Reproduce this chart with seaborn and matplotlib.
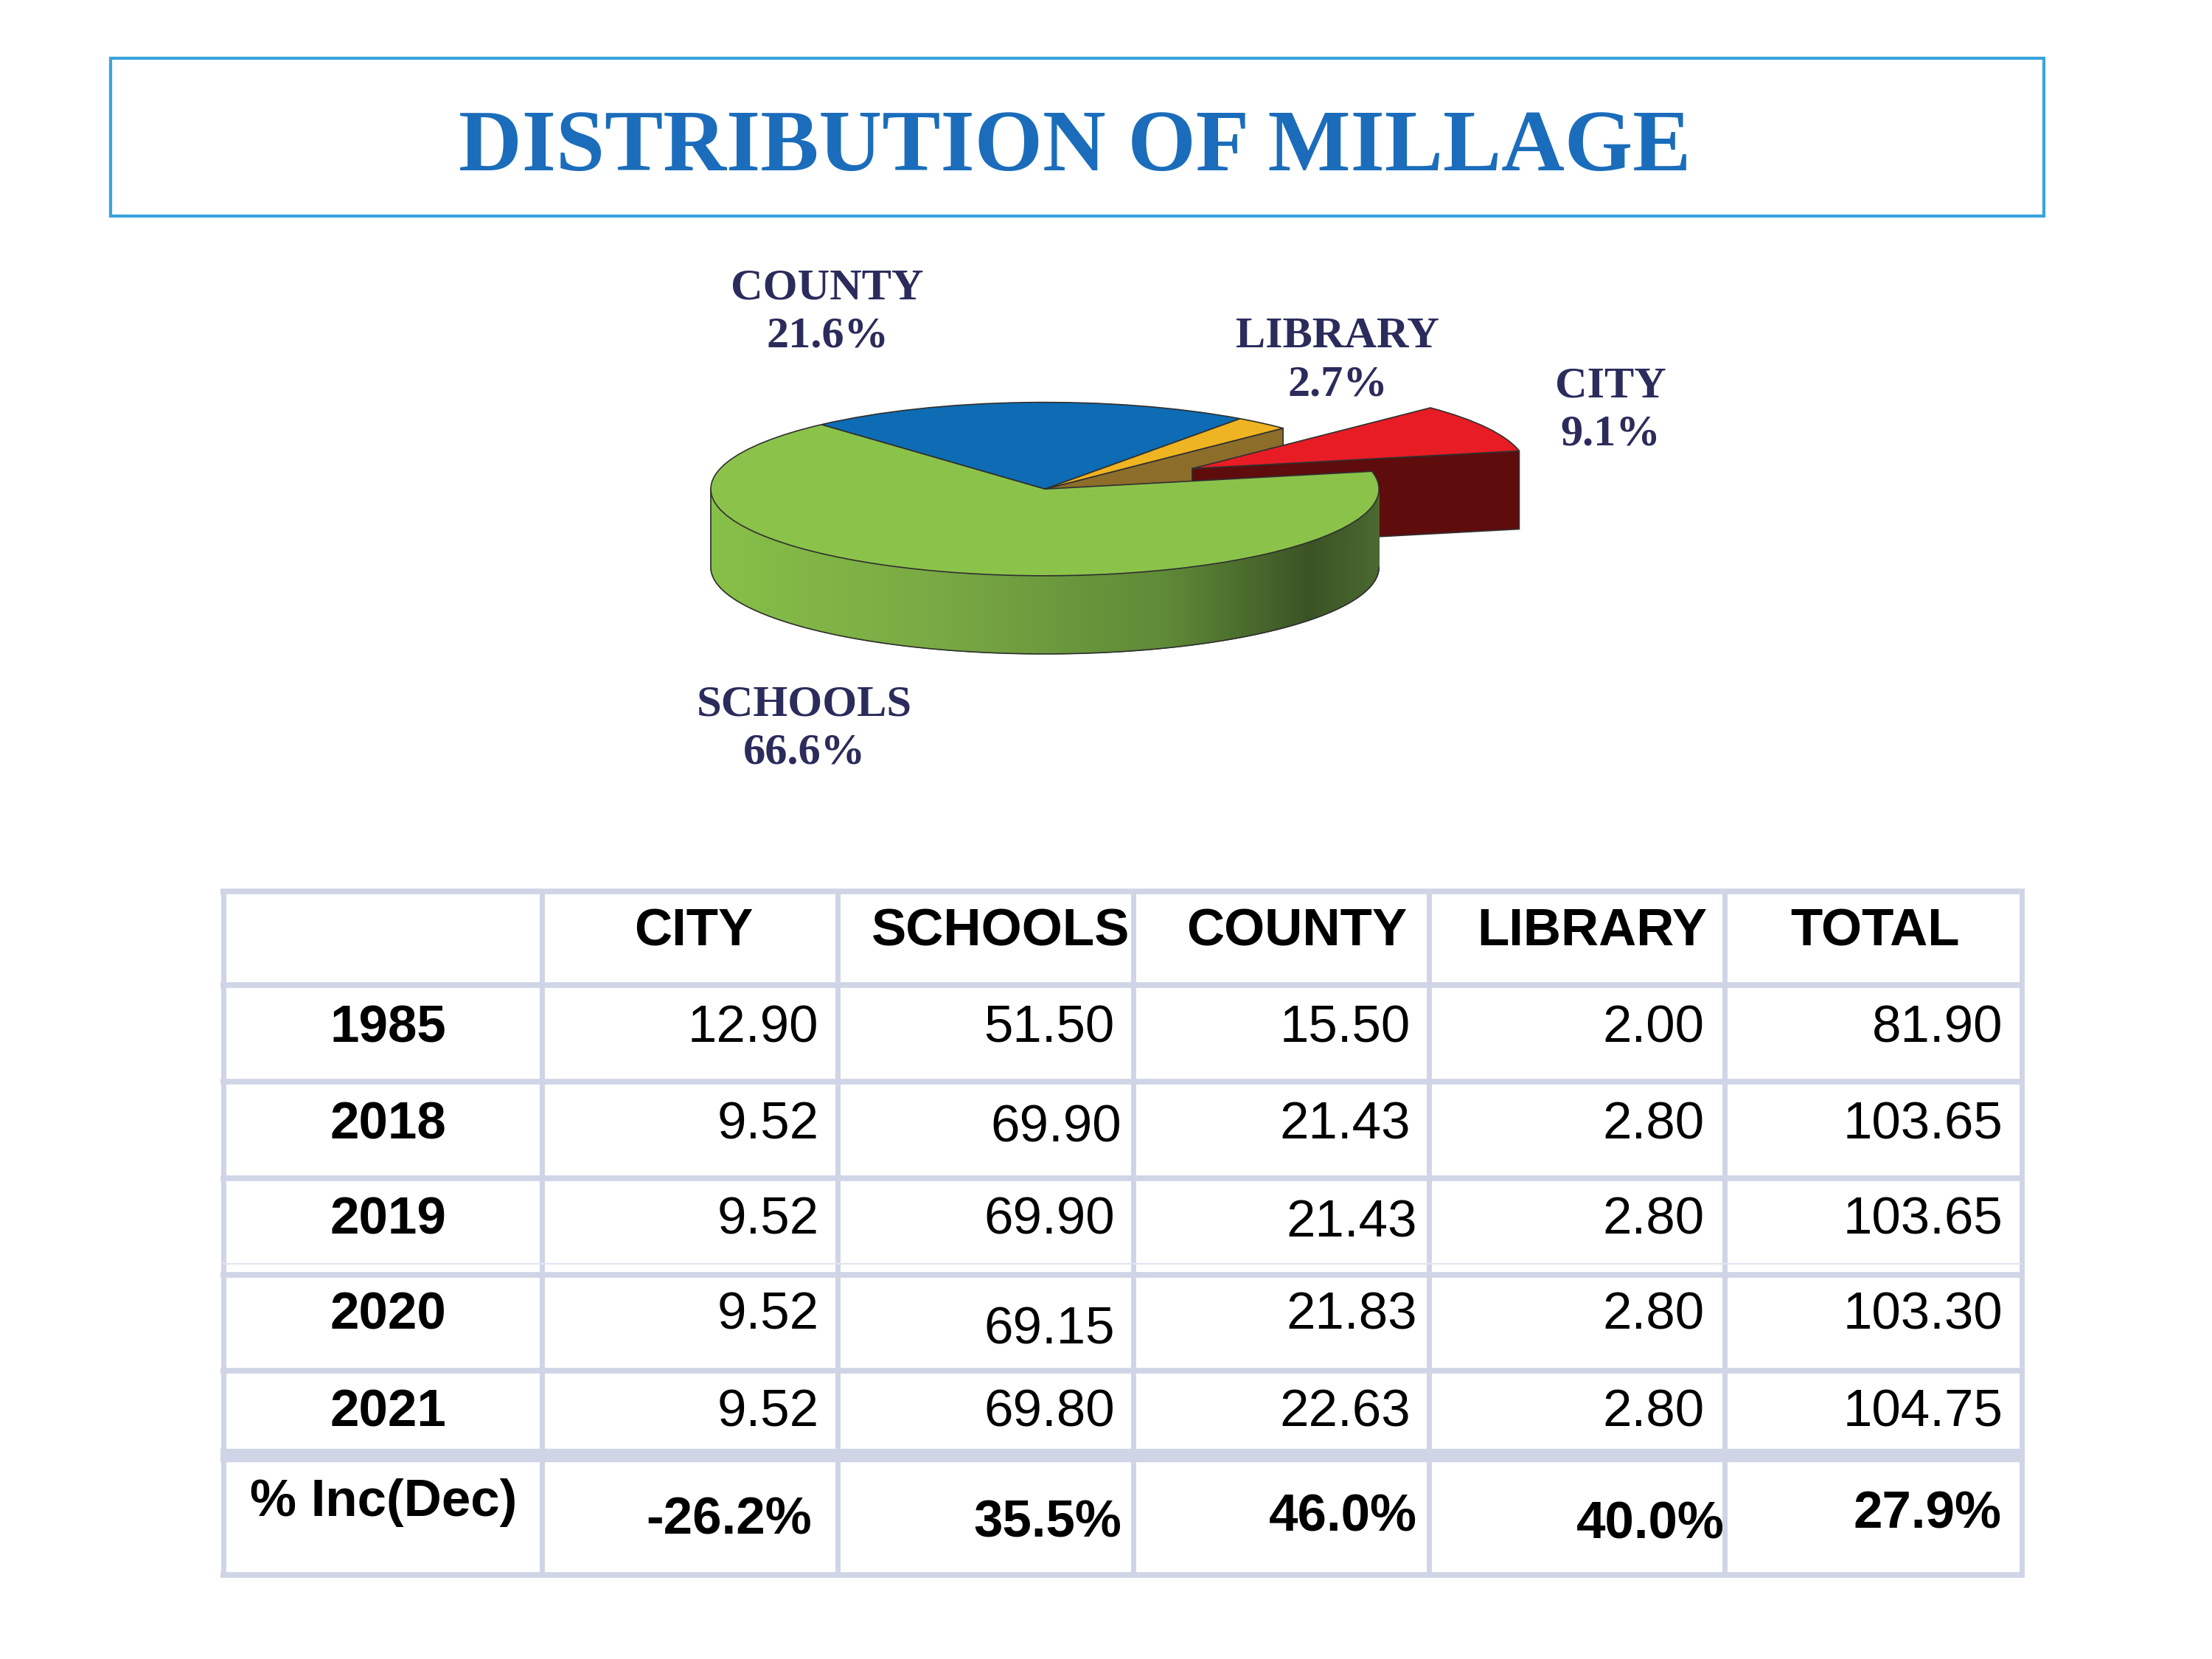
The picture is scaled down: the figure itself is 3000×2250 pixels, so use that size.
import numpy as np
import matplotlib
matplotlib.use("Agg")
import matplotlib.pyplot as plt
import seaborn as sns
from matplotlib.patches import Rectangle
from matplotlib.collections import PolyCollection
from matplotlib.colors import LinearSegmentedColormap

# ---------------- data ----------------
pie_labels = ["COUNTY", "LIBRARY", "CITY", "SCHOOLS"]
pie_pct = [21.6, 2.7, 9.1, 66.6]

columns = ["CITY", "SCHOOLS", "COUNTY", "LIBRARY", "TOTAL"]
years = ["1985", "2018", "2019", "2020", "2021"]
city = [12.90, 9.52, 9.52, 9.52, 9.52]
schools = [51.50, 69.90, 69.90, 69.15, 69.80]
county = [15.50, 21.43, 21.43, 21.83, 22.63]
library = [2.00, 2.80, 2.80, 2.80, 2.80]
total = [81.90, 103.65, 103.65, 103.30, 104.75]
pct_change = [-26.2, 35.5, 46.0, 40.0, 27.9]
change_label = "% Inc(Dec)"
title = "DISTRIBUTION OF MILLAGE"

# ---------------- style ----------------
sns.set_theme(style="white")
plt.rcParams["font.family"] = ["Liberation Sans", "DejaVu Sans"]

top_colors = ["#0d6cb4", "#efb421", "#e81c24", "#8bc34a"]
side_colors = ["#0a4f85", "#8c6d2a", "#5e0c0c", "#6a9a3e"]
explode = [0, 0, 0.5, 0]
label_color = "#2b2c5c"
grid_color = "#cfd5e6"
PX = 0.4627  # points per layout pixel

fig = plt.figure(figsize=(10, 7.5), dpi=300)
fig.patch.set_facecolor("white")

# layout axes (pixel-like units of a 1556 x 1167 canvas)
ax = fig.add_axes([0, 0, 1, 1])
ax.set_xlim(0, 1556)
ax.set_ylim(1167, 0)
ax.axis("off")

# ---------------- title box ----------------
ax.add_patch(Rectangle((78, 41), 1360, 111, fill=False, edgecolor="#39a3dc", lw=1.0))
ax.text(756, 120, title, ha="center", va="baseline", fontsize=28.5,
        fontweight="bold", color="#1b6dbb", family=["Liberation Serif", "DejaVu Serif"])

# ---------------- 3D pie ----------------
pax = fig.add_axes([0, 0, 1, 1])
pax.patch.set_alpha(0)
cx, cy, rx, ry = 735, 344, 235, 61
depth = 55 / ry

wedges, _ = pax.pie(pie_pct, startangle=132, counterclock=False, explode=explode,
                    colors=top_colors,
                    wedgeprops=dict(edgecolor="#303030", linewidth=0.4))
pax.set_xlim((0 - cx) / rx, (1556 - cx) / rx)
pax.set_ylim((cy - 1167) / ry, (cy - 0) / ry)
pax.set_aspect("auto")
pax.axis("off")

fr = np.array(pie_pct) / np.sum(pie_pct)
cum = np.concatenate([[0], np.cumsum(fr)])
t_start = 132 - cum[:-1] * 360   # ccw end
t_end = 132 - cum[1:] * 360      # cw end

green_cmap = LinearSegmentedColormap.from_list(
    "side", [(0.0, "#87c048"), (0.35, "#78a843"), (0.68, "#5f8a37"),
             (0.90, "#3b5325"), (1.0, "#4a6830")])

n = len(pie_pct)
for i in range(n):
    mid = np.deg2rad((t_start[i] + t_end[i]) / 2)
    ox, oy = explode[i] * np.cos(mid), explode[i] * np.sin(mid)
    zb = 2 * i + 1
    wedges[i].set_zorder(zb + 1)
    # outer arc side wall
    a = np.deg2rad(np.linspace(t_end[i], t_start[i], 600))
    polys, cols = [], []
    for a1, a2 in zip(a[:-1], a[1:]):
        if np.sin((a1 + a2) / 2) < 0:
            x1, y1 = ox + np.cos(a1), oy + np.sin(a1)
            x2, y2 = ox + np.cos(a2), oy + np.sin(a2)
            polys.append([(x1, y1), (x2, y2), (x2, y2 - depth), (x1, y1 - depth)])
            if i == n - 1:
                cols.append(green_cmap((np.cos((a1 + a2) / 2) + 1) / 2))
            else:
                cols.append(side_colors[i])
    if polys:
        pc = PolyCollection(polys, facecolors=cols, edgecolors=cols, linewidths=0.3,
                            zorder=zb)
        pax.add_collection(pc)
        vis = a[np.sin(a) < 0]
        pax.plot(ox + np.cos(vis), oy + np.sin(vis) - depth, color="#303030",
                 lw=0.4, zorder=zb + 0.5)
        pax.plot([ox + np.cos(vis[0])] * 2, [oy + np.sin(vis[0]), oy + np.sin(vis[0]) - depth],
                 color="#303030", lw=0.4, zorder=zb + 0.5)
    # radial faces (only next to an exploded slice)
    for t, nb, sign in [(t_end[i], (i + 1) % n, -1), (t_start[i], (i - 1) % n, 1)]:
        if explode[i] == 0 and explode[nb] == 0:
            continue
        normal = np.deg2rad(t + sign * 90)
        if np.sin(normal) >= 0:
            continue
        tr = np.deg2rad(t)
        px_, py_ = ox + np.cos(tr), oy + np.sin(tr)
        face = [(ox, oy), (px_, py_), (px_, py_ - depth), (ox, oy - depth)]
        pax.fill(*zip(*face), facecolor=side_colors[i], edgecolor="#303030",
                 lw=0.4, zorder=zb)

# pie labels
label_pos = {"COUNTY": (582, 220), "LIBRARY": (941, 254),
             "CITY": (1133, 289), "SCHOOLS": (566, 513)}
for name, pct in zip(pie_labels, pie_pct):
    x, y = label_pos[name]
    ax.text(x, y, f"{name}\n{pct:.1f}%", ha="center", va="center", fontsize=14.5,
            fontweight="bold", color=label_color, linespacing=1.28,
            family=["Liberation Serif", "DejaVu Serif"])

# ---------------- table ----------------
col_edges = [157, 381, 589, 797, 1005, 1213, 1422]
row_edges = [627, 693, 761, 829, 897, 964, 1024, 1108]
for xe in col_edges:
    ax.plot([xe, xe], [row_edges[0], row_edges[-1]], color=grid_color,
            lw=3.6 * PX, solid_capstyle="butt", zorder=1)
for k, ye in enumerate(row_edges):
    w = 9.5 if ye == 1024 else 4.0
    ax.plot([col_edges[0] - 2, col_edges[-1] + 2], [ye, ye], color=grid_color,
            lw=w * PX, solid_capstyle="butt", zorder=1)
ax.plot([col_edges[0], col_edges[-1]], [889, 889], color="#e2e6f0", lw=1.2 * PX, zorder=1)

fs = 17
cap = 0.716 * fs / PX / 2  # half cap height in layout px
header_x = [488, 704, 912, 1120, 1319]
for hx, h in zip(header_x, columns):
    ax.text(hx, 652 + cap, h, ha="center", va="baseline", fontsize=fs,
            fontweight="bold", color="black")

row_y = [720, 788, 855, 922, 990]
right_x = [576, 784, 992, 1199, 1409]
nudge = {(1, 1): (5, 2), (2, 2): (5, 2), (3, 1): (0, 10), (3, 2): (5, 0)}
series = [city, schools, county, library, total]
for r, yr in enumerate(years):
    ax.text(273, row_y[r] + cap, yr, ha="center", va="baseline", fontsize=fs,
            fontweight="bold", color="black")
    for c, vals in enumerate(series):
        dx, dy = nudge.get((r, c), (0, 0))
        ax.text(right_x[c] + dx, row_y[r] + dy + cap, f"{vals[r]:.2f}", ha="right",
                va="baseline", fontsize=fs, color="black")

ax.text(176, 1053 + cap, change_label, ha="left", va="baseline", fontsize=fs,
        fontweight="bold", color="black")
pct_pos = [(571, 1066), (789, 1068), (997, 1064), (1213, 1069), (1408, 1062)]
for (px_, py_), v in zip(pct_pos, pct_change):
    ax.text(px_, py_ + cap, f"{v:.1f}%", ha="right", va="baseline", fontsize=fs,
            fontweight="bold", color="black")

fig.savefig("out.png", dpi=300, facecolor="white")
